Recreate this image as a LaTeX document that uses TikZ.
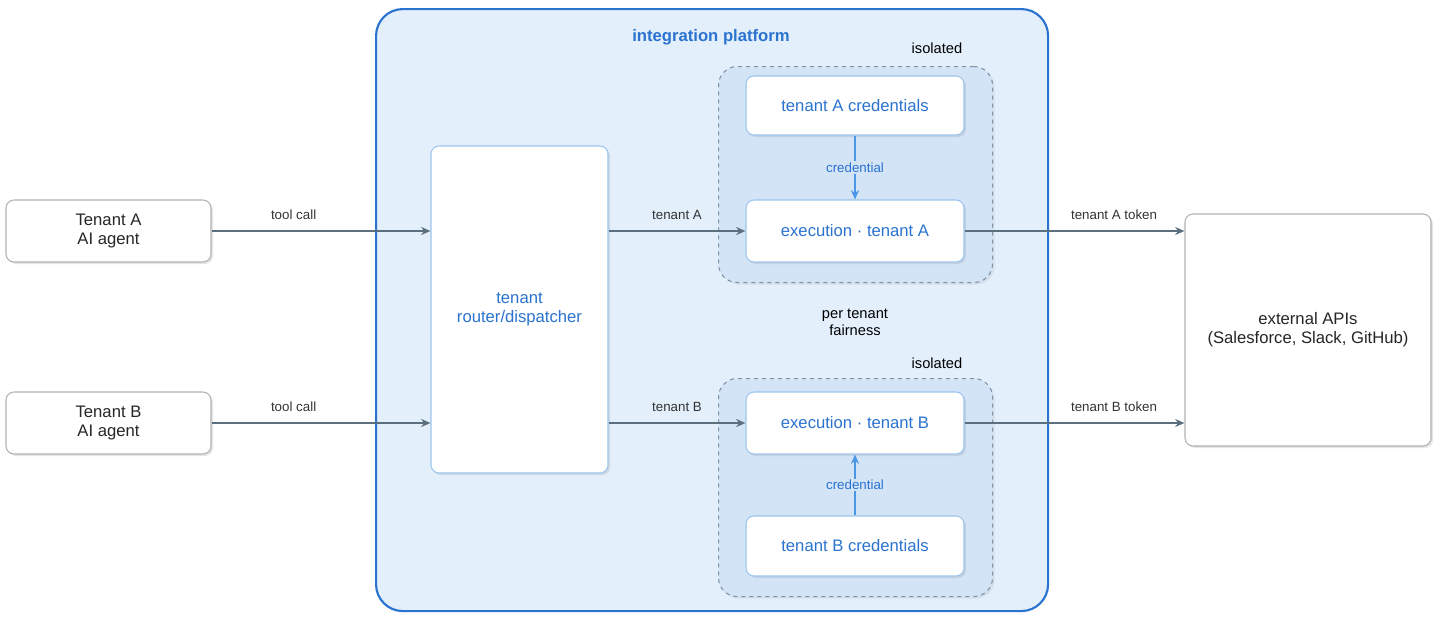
\documentclass[tikz,border=0pt]{standalone}
\usepackage{fontspec}
\setmainfont{Liberation Sans}
\usetikzlibrary{arrows.meta,shadows}
\definecolor{pfill}{HTML}{E3F0FC}
\definecolor{pborder}{HTML}{2A73D0}
\definecolor{gfill}{HTML}{D3E4F7}
\definecolor{gborder}{HTML}{7F92A8}
\definecolor{bborder}{HTML}{9DC5EE}
\definecolor{btext}{HTML}{2A73D0}
\definecolor{arr}{HTML}{5C6F7E}
\definecolor{cred}{HTML}{4A97E6}
\begin{document}
\begin{tikzpicture}[x=0.75pt,y=-0.75pt,
  box/.style={draw=#1,fill=white,rounded corners=6pt,line width=0.8pt,drop shadow={shadow xshift=1.5pt,shadow yshift=-1.5pt,opacity=0.2},align=center,font=\fontsize{12.5}{14.5}\selectfont,inner sep=0pt},
  ext/.style={box=gray!60,text=black!85},
  inn/.style={box=bborder,text=btext},
  grp/.style={draw=gborder,dashed,fill=gfill,rounded corners=14pt,line width=0.8pt,drop shadow={shadow xshift=1.5pt,shadow yshift=-1.5pt,opacity=0.15}},
  flow/.style={draw=arr,line width=1.1pt,-{Stealth[length=7pt,width=6pt]}},
  cflow/.style={draw=cred,line width=1.1pt,-{Stealth[length=7pt,width=6pt]}},
  lbl/.style={font=\fontsize{10}{12}\selectfont,text=black!80},
  clbl/.style={font=\fontsize{10}{12}\selectfont,text=btext,fill=gfill,inner sep=1pt}]
\useasboundingbox (0,0) rectangle (1440,621);
\node[draw=pborder,fill=pfill,rounded corners=20pt,line width=1.6pt,minimum width=672pt*0.75,minimum height=602pt*0.75,anchor=north west] (plat) at (375,8) {};
\node[font=\bfseries\fontsize{12.5}{14}\selectfont,text=btext] (title) at (711,37) {integration platform};
\node[grp,minimum width=274*0.75pt,minimum height=216*0.75pt,anchor=north west] (ga) at (718,66) {};
\node[grp,minimum width=274*0.75pt,minimum height=218*0.75pt,anchor=north west] (gb) at (718,378) {};
\node[lbl,font=\fontsize{11}{13}\selectfont,text=black] (isa) at (937,48) {isolated};
\node[lbl,font=\fontsize{11}{13}\selectfont,text=black] (isb) at (937,363) {isolated};
\node[lbl,font=\fontsize{11}{13}\selectfont,text=black,align=center] (fair) at (855,322) {per tenant\\fairness};
\node[ext,minimum width=205*0.75pt,minimum height=62*0.75pt] (ta) at (108.5,231) {Tenant A\\AI agent};
\node[ext,minimum width=205*0.75pt,minimum height=62*0.75pt] (tb) at (108.5,423) {Tenant B\\AI agent};
\node[inn,minimum width=177*0.75pt,minimum height=327*0.75pt] (rt) at (519.5,309.5) {tenant\\router/dispatcher};
\node[inn,minimum width=218*0.75pt,minimum height=59*0.75pt] (ca) at (855,105.5) {tenant A credentials};
\node[inn,minimum width=218*0.75pt,minimum height=62*0.75pt] (ea) at (855,231) {execution · tenant A};
\node[inn,minimum width=218*0.75pt,minimum height=62*0.75pt] (eb) at (855,423) {execution · tenant B};
\node[inn,minimum width=218*0.75pt,minimum height=60*0.75pt] (cb) at (855,546) {tenant B credentials};
\node[ext,minimum width=246*0.75pt,minimum height=232*0.75pt] (api) at (1308,330) {external APIs\\(Salesforce, Slack, GitHub)};
\draw[flow] (ta.east) -- (ta.east -| rt.west) node[lbl,pos=0.375,above=5pt] {tool call};
\draw[flow] (tb.east) -- (tb.east -| rt.west) node[lbl,pos=0.375,above=5pt] {tool call};
\draw[flow] (ea.west -| rt.east) -- (ea.west) node[lbl,pos=0.5,above=5pt] {tenant A};
\draw[flow] (eb.west -| rt.east) -- (eb.west) node[lbl,pos=0.5,above=5pt] {tenant B};
\draw[flow] (ea.east) -- (ea.east -| api.west) node[lbl,pos=0.68,above=5pt] {tenant A token};
\draw[flow] (eb.east) -- (eb.east -| api.west) node[lbl,pos=0.68,above=5pt] {tenant B token};
\draw[cflow] (ca.south) -- (ea.north) node[clbl,midway] {credential};
\draw[cflow] (cb.north) -- (eb.south) node[clbl,midway] {credential};
\end{tikzpicture}
\end{document}
